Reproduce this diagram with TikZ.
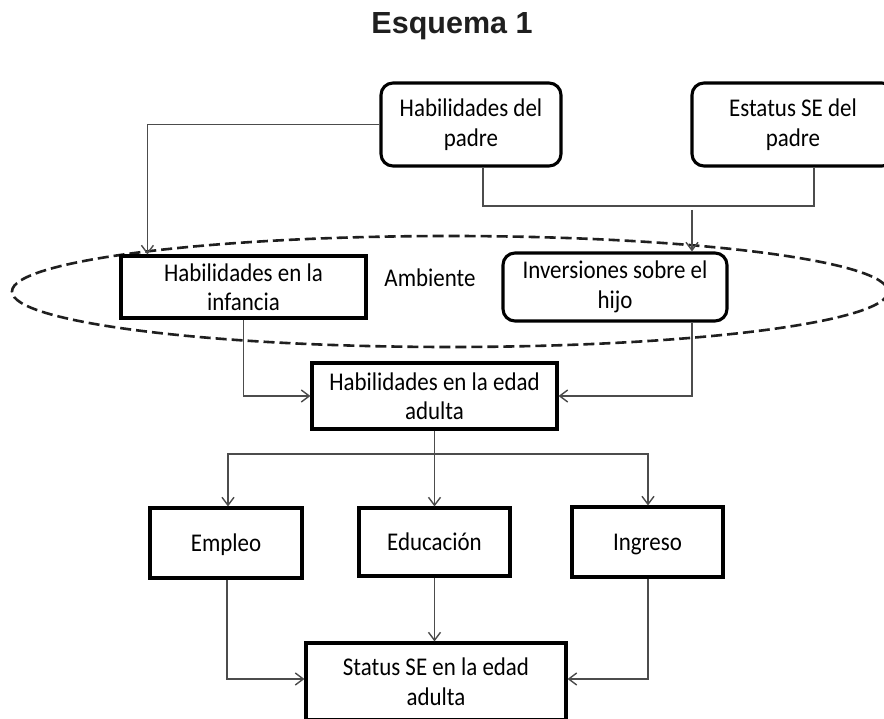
\documentclass[tikz,border=0pt]{standalone}
\usepackage{fontspec}
\setmainfont{Carlito}
\newfontfamily\boxfont[FakeStretch=0.9]{Carlito}
\newfontfamily\titlefont{Liberation Sans}
\usetikzlibrary{arrows.meta,calc}
\begin{document}
\begin{tikzpicture}[x=1pt,y=-1pt,
  box/.style={draw=black, line width=3.1pt, fill=white, inner sep=0pt, align=center,
    text=black, font=\boxfont\fontsize{25.5}{29.5}\selectfont},
  rbox/.style={box, rounded corners=12pt},
  one/.style={text height=22pt, text depth=5pt},
  conn/.style={draw=black!70, line width=1.4pt},
  arr/.style={conn, -{Straight Barb[length=8pt,width=12pt,line width=1.4pt]}},
  amb/.style={draw=black!88, line width=2.6pt, dash pattern=on 11pt off 5pt},
  lbl/.style={inner sep=0pt, text=black, font=\boxfont\fontsize{25.5}{29.5}\selectfont},
]
\clip (0,0) rectangle (884,719);
\fill[white] (0,0) rectangle (884,719);

% title
\node[inner sep=0pt, font=\titlefont\bfseries\fontsize{30.5}{36}\selectfont, text=black!88] (title) at (452,26) {Esquema 1};

% ellipse (Ambiente)
\draw[amb] (450,291.5) ellipse [x radius=438, y radius=55.5];

% nodes
\node[rbox, minimum width=180pt, minimum height=83pt] (hp) at (471,124.5) {Habilidades del\\padre};
\node[rbox, minimum width=202pt, minimum height=83pt] (es) at (793,124.5) {Estatus SE del\\padre};
\node[box, minimum width=245pt, minimum height=62pt] (inf) at (243.5,287) {Habilidades en la\\infancia};
\node[rbox, minimum width=224pt, minimum height=68pt] (inv) at (615,287) {Inversiones sobre el\\hijo};
\node[lbl] (amblbl) at (430,277.5) {Ambiente};
\node[box, minimum width=245pt, minimum height=66pt] (ad) at (434.5,396) {Habilidades en la edad\\adulta};
\node[box, one, minimum width=152pt, minimum height=70pt] (em) at (226,543) {Empleo};
\node[box, one, minimum width=151pt, minimum height=68pt] (ed) at (434.5,542) {Educación};
\node[box, one, minimum width=151pt, minimum height=70pt] (ing) at (647.5,542) {Ingreso};
\node[box, minimum width=260pt, minimum height=77pt] (st) at (436,681.5) {Status SE en la edad\\adulta};

% connectors
\draw[arr] (hp.west) -| ([xshift=28pt]inf.north west);
\draw[conn] ([xshift=12pt]hp.south) |- (483,206) -| ([xshift=21pt]es.south);
\coordinate (jn) at (692,210);
\draw[arr] (jn) -- ([xshift=77pt]inv.north);
\draw[arr] (inf.south) |- (ad.west);
\draw[arr] ([xshift=77pt]inv.south) |- (ad.east);
\coordinate (split) at (434.5,454);
\draw[arr] (ad.south) -- (ed.north);
\draw[arr] (split) -| ([xshift=2pt]em.north);
\draw[arr] (split) -| ([xshift=0.5pt]ing.north);
\draw[arr] ([xshift=1pt]em.south) |- ([yshift=2.5pt]st.west);
\draw[arr] (ed.south) -- (ed.south |- st.north);
\draw[arr] ([xshift=0.5pt]ing.south) |- ([yshift=2.5pt]st.east);
\end{tikzpicture}
\end{document}
